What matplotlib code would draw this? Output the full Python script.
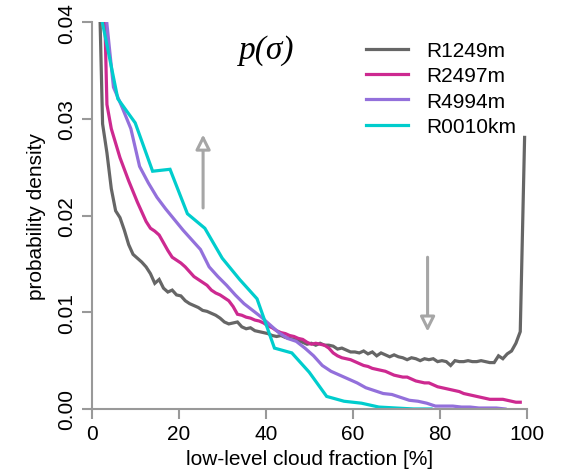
import numpy as np
import matplotlib
matplotlib.use("Agg")
from matplotlib import pyplot as plt

plt.rcParams['font.family'] = ['Liberation Sans', 'DejaVu Sans']

# R1249m, 1% bins
x_1249 = np.arange(0.5, 100, 1.0)
y_1249 = [0.12, 0.048, 0.0295, 0.0265, 0.0228, 0.0205, 0.0198, 0.0185, 0.0170, 0.0160,
          0.0156, 0.0152, 0.0147, 0.0140, 0.0130, 0.0134, 0.0125, 0.0121, 0.0123, 0.0118,
          0.0117, 0.0112, 0.0109, 0.0107, 0.0105, 0.0102, 0.0101, 0.0099, 0.0097, 0.0094,
          0.0090, 0.0088, 0.0089, 0.0090, 0.0085, 0.0083, 0.0084, 0.0081, 0.0080, 0.0079,
          0.0078, 0.0076, 0.0075, 0.0076, 0.0074, 0.0073, 0.0072, 0.0071, 0.0069, 0.0067,
          0.0068, 0.0066, 0.0068, 0.0066, 0.0066, 0.0065, 0.0062, 0.0063, 0.0061, 0.0059,
          0.0059, 0.0058, 0.0060, 0.0057, 0.0059, 0.0055, 0.0058, 0.0056, 0.0054, 0.0056,
          0.0054, 0.0053, 0.0051, 0.0053, 0.0052, 0.0050, 0.0052, 0.0051, 0.0052, 0.0049,
          0.0050, 0.0049, 0.0045, 0.0050, 0.0049, 0.0049, 0.0050, 0.0049, 0.0049, 0.0050,
          0.0049, 0.0048, 0.0048, 0.0055, 0.0052, 0.0057, 0.0060, 0.0068, 0.0080, 0.0281]

# R2497m, 1% bins
x_2497 = np.arange(1.5, 99, 1.0)
y_2497 = [0.080, 0.050, 0.0315, 0.0290, 0.0275, 0.0260, 0.0248, 0.0236, 0.0225, 0.0214,
          0.0204, 0.0194, 0.0187, 0.0184, 0.0180, 0.0172, 0.0164, 0.0157, 0.0154, 0.0151,
          0.0147, 0.0142, 0.0137, 0.0134, 0.0131, 0.0128, 0.0123, 0.0120, 0.0118, 0.0115,
          0.0112, 0.0106, 0.0098, 0.0097, 0.0095, 0.0094, 0.0092, 0.0091, 0.0089, 0.0086,
          0.0084, 0.0081, 0.0079, 0.0078, 0.0076, 0.0075, 0.0073, 0.0072, 0.0069, 0.0067,
          0.0068, 0.0067, 0.0066, 0.0063, 0.0058, 0.0055, 0.0053, 0.0052, 0.0051, 0.0049,
          0.0047, 0.0045, 0.0044, 0.0042, 0.0041, 0.0040, 0.0039, 0.0037, 0.0035, 0.0034,
          0.0033, 0.0033, 0.0031, 0.0029, 0.0028, 0.0027, 0.0027, 0.0025, 0.0023, 0.0022,
          0.0021, 0.0020, 0.0019, 0.0018, 0.0016, 0.0015, 0.0014, 0.0013, 0.0012, 0.0011,
          0.0010, 0.0010, 0.0010, 0.0010, 0.0009, 0.0008, 0.0007, 0.0007]

# R4994m, 2% bins
x_4994 = np.arange(1, 97, 2.0)
y_4994 = [0.090, 0.042, 0.0333, 0.0312, 0.0290, 0.0251, 0.0234, 0.0219, 0.0207, 0.0196,
          0.0185, 0.0175, 0.0165, 0.0147, 0.0137, 0.0128, 0.0118, 0.0109, 0.0102, 0.0095,
          0.0087, 0.0079, 0.0073, 0.0070, 0.0063, 0.0055, 0.0045, 0.0039, 0.0035, 0.0031,
          0.0027, 0.0022, 0.0019, 0.0016, 0.0015, 0.0012, 0.0009, 0.0008, 0.0006, 0.0003,
          0.0003, 0.0003, 0.0002, 0.0002, 0.0001, 0.0001, 0.0001, 0.0000]

# R0010km, 4% bins
x_0010 = np.arange(2, 80, 4.0)
y_0010 = [0.0410, 0.0321, 0.0296, 0.0246, 0.0248, 0.0202, 0.0187, 0.0156, 0.0134, 0.0114,
          0.0063, 0.0058, 0.0038, 0.0013, 0.0008, 0.0006, 0.0002, 0.0001, 0.0000, 0.0000]

labels = ["R1249m", "R2497m", "R4994m", "R0010km"]
colors = ["#666666", "#CD2990", "#9370DB", "#00CDCD"]

fig = plt.figure(figsize=(5.64, 4.77), dpi=100)
ax = fig.add_axes([0.1626, 0.1405, 0.7714, 0.8105])

series = [(x_1249, y_1249), (x_2497, y_2497), (x_4994, y_4994), (x_0010, y_0010)]
for (xs, ys), lab, col in zip(series, labels, colors):
    ax.plot(xs, ys, color=col, lw=2.3, label=lab, solid_joinstyle="miter")

ax.set_xlim(0, 100)
ax.set_ylim(0, 0.04)
ax.set_xticks([0, 20, 40, 60, 80, 100])
ax.set_yticks([0.0, 0.01, 0.02, 0.03, 0.04])
ax.set_yticklabels(["0.00", "0.01", "0.02", "0.03", "0.04"], rotation=90, va="center")
for s in ["top", "right"]:
    ax.spines[s].set_visible(False)
for s in ["left", "bottom"]:
    ax.spines[s].set_color("#999999")
    ax.spines[s].set_linewidth(1.5)
ax.tick_params(direction="out", length=7, width=1.5, color="#999999",
               labelsize=15, pad=4)
ax.set_xlabel("low-level cloud fraction [%]", fontsize=15, labelpad=4)
ax.set_ylabel("probability density", fontsize=15, labelpad=8)

ax.text(40.3, 0.0372, "p(σ)", fontsize=24, ha="center", va="center",
        family="Liberation Serif", style="italic")

leg = ax.legend(loc="upper left", bbox_to_anchor=(0.588, 1.0), frameon=False,
                fontsize=15, handlelength=2.0, handletextpad=0.9, labelspacing=0.3)

# arrows
arrow_kw = dict(arrowstyle="-|>", fc="white", ec="#a6a6a6", lw=2.2,
                mutation_scale=22, shrinkA=0, shrinkB=0)
ax.annotate("", xy=(25.6, 0.0284), xytext=(25.6, 0.0208), arrowprops=arrow_kw)
ax.annotate("", xy=(77.2, 0.0080), xytext=(77.2, 0.0157), arrowprops=arrow_kw)

fig.savefig("out.png", dpi=100)
